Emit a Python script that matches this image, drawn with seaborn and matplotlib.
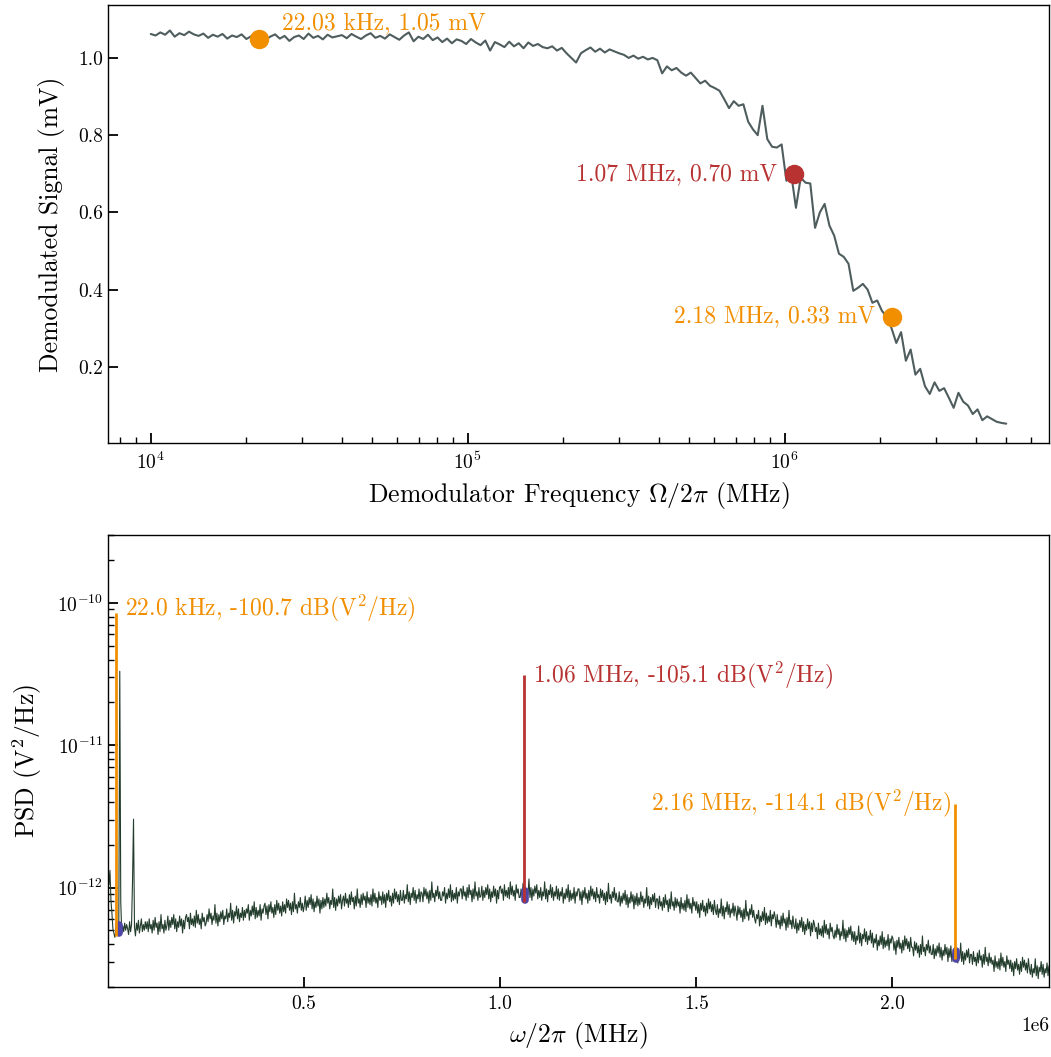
import numpy as np
import pandas as pd
import matplotlib
matplotlib.use("Agg")
import matplotlib.pyplot as plt
import seaborn as sns

# ---------------- data: demodulated signal sweep (top) ----------------
signal_mV = [
    1.062, 1.058, 1.066, 1.060, 1.071, 1.055, 1.064, 1.059, 1.068, 1.061,
    1.057, 1.063, 1.052, 1.060, 1.055, 1.062, 1.050, 1.058, 1.054, 1.061,
    1.049, 1.056, 1.052, 1.059, 1.047, 1.055, 1.061, 1.050, 1.057, 1.044,
    1.054, 1.058, 1.049, 1.063, 1.052, 1.057, 1.048, 1.060, 1.053, 1.056,
    1.059, 1.051, 1.062, 1.055, 1.049, 1.058, 1.064, 1.052, 1.057, 1.050,
    1.061, 1.054, 1.047, 1.058, 1.066, 1.043, 1.055, 1.049, 1.060, 1.046,
    1.053, 1.041, 1.050, 1.038, 1.048, 1.044, 1.036, 1.049, 1.040, 1.033,
    1.045, 1.019, 1.041, 1.035, 1.028, 1.042, 1.030, 1.038, 1.025, 1.040,
    1.031, 1.036, 1.028, 1.025, 1.030, 1.019, 1.026, 1.012, 1.000, 0.988,
    1.012, 1.020, 1.027, 1.016, 1.024, 1.014, 1.022, 1.017, 1.012, 1.008,
    1.000, 1.006, 0.998, 1.003, 0.996, 1.000, 0.994, 0.960, 0.978, 0.968,
    0.974, 0.962, 0.954, 0.962, 0.948, 0.934, 0.941, 0.928, 0.922, 0.915,
    0.893, 0.870, 0.888, 0.876, 0.880, 0.835, 0.815, 0.800, 0.876, 0.790,
    0.770, 0.768, 0.776, 0.682, 0.700, 0.612, 0.690, 0.677, 0.675, 0.560,
    0.600, 0.622, 0.566, 0.540, 0.493, 0.485, 0.467, 0.397, 0.405, 0.415,
    0.400, 0.366, 0.372, 0.345, 0.330, 0.300, 0.262, 0.290, 0.216, 0.245,
    0.180, 0.195, 0.150, 0.130, 0.160, 0.138, 0.145, 0.120, 0.094, 0.133,
    0.110, 0.100, 0.078, 0.090, 0.062, 0.072, 0.065, 0.058, 0.055, 0.053,
]
sweep_start_hz = 1e4
sweep_stop_hz = 5e6

marker_freq_hz = [22.03e3, 1.07e6, 2.18e6]
marker_signal_mV = [1.05, 0.70, 0.33]
marker_labels = ["22.03 kHz, 1.05 mV", "1.07 MHz, 0.70 mV", "2.18 MHz, 0.33 mV"]

# ---------------- data: PSD spectrum (bottom), dB(V^2/Hz), 2.5 kHz bins ----------------
psd_bin_hz = 2.5e3
psd_first_hz = 1.25e3
psd_db = [
    -118.3, -119.8, -118.8, -120.9, -121.8, -122.9, -123.2, -123.5, -123.1, -123.3,
    -122.8, -123.0, -104.8, -121.0, -123.2, -122.7, -123.1, -122.5, -123.0, -122.6,
    -122.9, -123.3, -122.4, -123.1, -122.6, -119.5, -115.2, -122.8, -123.4, -122.5,
    -123.0, -122.3, -123.2, -122.7, -122.2, -123.1, -122.6, -123.0, -122.4, -122.9,
    -122.4, -123.1, -122.2, -122.9, -122.6, -123.2, -122.3, -123.0, -122.1, -122.8,
    -122.5, -123.3, -122.4, -123.1, -121.9, -122.9, -122.6, -123.2, -122.3, -123.0,
    -122.7, -122.0, -123.0, -122.3, -122.8, -122.1, -122.6, -121.9, -122.9, -122.2,
    -123.1, -122.4, -122.8, -122.0, -122.7, -122.2, -123.2, -122.3, -122.9, -122.1,
    -121.9, -122.4, -122.1, -122.9, -121.8, -122.6, -122.2, -122.7, -122.0, -122.8,
    -121.6, -122.5, -121.9, -122.6, -122.2, -122.9, -121.8, -122.4, -122.1, -122.7,
    -122.5, -121.9, -122.4, -121.5, -122.2, -121.8, -122.6, -122.0, -122.3, -121.2,
    -122.5, -121.8, -122.7, -121.9, -122.4, -121.7, -122.2, -121.6, -122.6, -122.0,
    -122.2, -121.5, -122.4, -121.8, -122.1, -121.1, -122.3, -121.6, -122.5, -121.7,
    -122.0, -121.3, -122.2, -121.5, -122.4, -121.8, -122.1, -121.4, -122.3, -121.6,
    -122.1, -121.5, -121.8, -121.2, -122.3, -121.6, -122.0, -121.3, -121.9, -121.0,
    -122.2, -121.4, -122.1, -121.6, -122.0, -121.2, -122.3, -121.5, -121.8, -121.3,
    -121.1, -121.9, -121.3, -122.2, -121.2, -121.7, -121.0, -121.8, -121.4, -122.1,
    -121.2, -121.9, -120.9, -121.6, -121.1, -121.8, -121.3, -122.0, -121.0, -121.7,
    -121.2, -121.8, -120.8, -121.4, -120.9, -121.6, -121.1, -121.9, -121.0, -121.7,
    -120.4, -121.5, -121.2, -121.8, -121.0, -121.4, -120.7, -121.6, -121.1, -121.7,
    -121.3, -120.6, -121.6, -120.9, -121.4, -120.7, -121.2, -120.5, -121.5, -120.8,
    -121.7, -121.0, -121.4, -120.6, -121.3, -120.8, -121.8, -120.9, -121.5, -120.7,
    -121.4, -120.8, -121.3, -120.4, -121.1, -120.7, -121.5, -120.9, -121.2, -120.1,
    -121.4, -120.7, -121.6, -120.8, -121.3, -120.6, -121.1, -120.5, -121.5, -120.9,
    -120.6, -121.3, -120.4, -121.1, -120.8, -121.4, -120.5, -121.2, -120.3, -121.0,
    -120.7, -121.5, -120.6, -121.3, -120.1, -121.1, -120.8, -121.4, -120.5, -121.2,
    -120.4, -120.9, -120.6, -121.4, -120.3, -121.1, -120.7, -121.2, -120.5, -121.3,
    -120.1, -121.0, -120.4, -121.1, -120.7, -121.4, -120.3, -120.9, -120.6, -121.2,
    -120.3, -121.1, -120.5, -121.4, -120.4, -120.9, -120.2, -121.0, -120.6, -121.3,
    -120.4, -121.1, -120.1, -120.8, -120.3, -121.0, -120.5, -121.2, -120.2, -120.9,
    -120.9, -120.2, -121.1, -120.5, -120.8, -119.8, -121.0, -120.3, -121.2, -120.4,
    -120.7, -120.0, -120.9, -120.2, -121.1, -120.5, -120.8, -120.1, -121.0, -120.3,
    -120.4, -121.0, -120.0, -120.6, -120.1, -120.8, -120.3, -121.1, -120.2, -120.9,
    -119.6, -120.7, -120.4, -121.0, -120.2, -120.6, -119.9, -120.8, -120.3, -120.9,
    -120.9, -120.3, -120.6, -120.0, -121.1, -120.4, -120.8, -120.1, -120.7, -119.8,
    -121.0, -120.2, -120.9, -120.4, -120.8, -120.0, -121.1, -120.3, -120.6, -120.1,
    -120.1, -120.8, -119.9, -120.6, -120.3, -120.9, -120.0, -120.7, -119.8, -120.5,
    -120.2, -121.0, -120.1, -120.8, -119.6, -120.6, -120.3, -120.9, -120.0, -120.7,
    -120.6, -119.9, -120.9, -120.2, -120.7, -120.0, -120.5, -119.8, -120.8, -120.1,
    -121.0, -120.3, -120.7, -119.9, -120.6, -120.1, -121.1, -120.2, -120.8, -120.0,
    -119.9, -120.4, -120.1, -120.9, -119.8, -120.6, -120.2, -120.7, -120.0, -120.8,
    -119.6, -120.5, -119.9, -120.6, -120.2, -120.9, -119.8, -120.4, -120.1, -120.7,
    -120.7, -120.1, -120.6, -119.7, -120.4, -120.0, -120.8, -120.2, -120.5, -119.4,
    -120.7, -120.0, -120.9, -120.1, -120.6, -119.9, -120.4, -119.8, -120.8, -120.2,
    -120.7, -120.0, -120.9, -120.3, -120.6, -119.6, -120.8, -120.1, -121.0, -120.2,
    -120.5, -119.8, -120.7, -120.0, -120.9, -120.3, -120.6, -119.9, -120.8, -120.1,
    -120.9, -120.3, -120.6, -120.0, -121.1, -120.4, -120.8, -120.1, -120.7, -119.8,
    -121.0, -120.2, -120.9, -120.4, -120.8, -120.0, -121.1, -120.3, -120.6, -120.1,
    -120.1, -120.9, -120.3, -121.2, -120.2, -120.7, -120.0, -120.8, -120.4, -121.1,
    -120.2, -120.9, -119.9, -120.6, -120.1, -120.8, -120.3, -121.0, -120.0, -120.7,
    -120.5, -121.1, -120.1, -120.7, -120.2, -120.9, -120.4, -121.2, -120.3, -121.0,
    -119.7, -120.8, -120.5, -121.1, -120.3, -120.7, -120.0, -120.9, -120.4, -121.0,
    -121.0, -120.3, -121.3, -120.6, -121.1, -120.4, -120.9, -120.2, -121.2, -120.5,
    -121.4, -120.7, -121.1, -120.3, -121.0, -120.5, -121.5, -120.6, -121.2, -120.4,
    -121.3, -120.7, -121.2, -120.3, -121.0, -120.6, -121.4, -120.8, -121.1, -120.0,
    -121.3, -120.6, -121.5, -120.7, -121.2, -120.5, -121.0, -120.4, -121.4, -120.8,
    -120.8, -121.5, -120.6, -121.3, -121.0, -121.6, -120.7, -121.4, -120.5, -121.2,
    -120.9, -121.7, -120.8, -121.5, -120.3, -121.3, -121.0, -121.6, -120.7, -121.4,
    -120.8, -121.3, -121.0, -121.8, -120.7, -121.5, -121.1, -121.6, -120.9, -121.7,
    -120.5, -121.4, -120.8, -121.5, -121.1, -121.8, -120.7, -121.3, -121.0, -121.6,
    -121.0, -121.8, -121.2, -122.1, -121.1, -121.6, -120.9, -121.7, -121.3, -122.0,
    -121.1, -121.8, -120.8, -121.5, -121.0, -121.7, -121.2, -121.9, -120.9, -121.6,
    -121.9, -121.2, -122.1, -121.5, -121.8, -120.8, -122.0, -121.3, -122.2, -121.4,
    -121.7, -121.0, -121.9, -121.2, -122.1, -121.5, -121.8, -121.1, -122.0, -121.3,
    -121.7, -122.3, -121.3, -121.9, -121.4, -122.1, -121.6, -122.4, -121.5, -122.2,
    -120.9, -122.0, -121.7, -122.3, -121.5, -121.9, -121.2, -122.1, -121.6, -122.2,
    -122.5, -121.9, -122.2, -121.6, -122.7, -122.0, -122.4, -121.7, -122.3, -121.4,
    -122.6, -121.8, -122.5, -122.0, -122.4, -121.6, -122.7, -121.9, -122.2, -121.7,
    -122.1, -122.8, -121.9, -122.6, -122.3, -122.9, -122.0, -122.7, -121.8, -122.5,
    -122.2, -123.0, -122.1, -122.8, -121.6, -122.6, -122.3, -122.9, -122.0, -122.7,
    -122.9, -122.2, -123.2, -122.5, -123.0, -122.3, -122.8, -122.1, -123.1, -122.4,
    -123.3, -122.6, -123.0, -122.2, -122.9, -122.4, -123.4, -122.5, -123.1, -122.3,
    -122.6, -123.1, -122.8, -123.6, -122.5, -123.3, -122.9, -123.4, -122.7, -123.5,
    -122.3, -123.2, -122.6, -123.3, -122.9, -123.6, -122.5, -123.1, -122.8, -123.4,
    -123.6, -123.0, -123.5, -122.6, -123.3, -122.9, -123.7, -123.1, -123.4, -122.3,
    -123.6, -122.9, -123.8, -123.0, -123.5, -122.8, -123.3, -122.7, -123.7, -123.1,
    -123.8, -123.1, -124.0, -123.4, -123.7, -122.7, -123.9, -123.2, -124.1, -123.3,
    -123.6, -122.9, -123.8, -123.1, -124.0, -123.4, -123.7, -123.0, -123.9, -123.2,
    -124.2, -123.6, -123.9, -123.3, -124.4, -123.7, -124.1, -123.4, -124.0, -123.1,
    -124.3, -123.5, -124.2, -123.7, -124.1, -123.3, -124.4, -123.6, -123.9, -123.4,
    -123.6, -124.4, -123.8, -124.7, -123.7, -124.2, -123.5, -124.3, -123.9, -124.6,
    -123.7, -124.4, -123.4, -124.1, -123.6, -124.3, -123.8, -124.5, -123.5, -124.2,
    -124.2, -124.8, -123.8, -124.4, -123.9, -124.6, -124.1, -124.9, -124.0, -124.7,
    -123.4, -124.5, -124.2, -124.8, -124.0, -124.4, -123.7, -124.6, -124.1, -124.7,
    -124.7, -124.0, -125.0, -124.3, -124.8, -124.1, -124.6, -123.9, -124.9, -124.2,
    -125.1, -124.4, -124.8, -124.0, -124.7, -124.2, -125.2, -124.3, -124.9, -124.1,
    -125.2, -124.6, -125.1, -124.2, -124.9, -124.5, -125.3, -124.7, -125.0, -123.9,
    -125.2, -124.5, -125.4, -124.6, -125.1, -124.4, -124.9, -124.3, -125.3, -124.7,
    -124.7, -125.4, -124.5, -125.2, -124.9, -125.5, -124.6, -125.3, -124.4, -125.1,
    -124.8, -125.6, -124.7, -125.4, -124.2, -125.2, -124.9, -125.5, -124.6, -125.3,
    -124.9, -125.4, -125.1, -125.9, -124.8, -125.6, -125.2, -125.7, -125.0, -125.8,
    -124.6, -125.5, -124.9, -125.6, -125.2, -125.9, -124.8, -125.4, -125.1, -125.7,
    -125.1, -125.9, -125.3, -126.2, -125.2, -125.7, -125.0, -125.8, -125.4, -126.1,
    -125.2, -125.9, -124.9, -125.6, -125.1, -125.8, -125.3, -126.0, -125.0, -125.7,
    -126.1, -125.4, -126.3, -125.7, -126.0, -125.0, -126.2, -125.5, -126.4, -125.6,
    -125.9, -125.2, -126.1, -125.4, -126.3, -125.7, -126.0, -125.3, -126.2, -125.5,
]

peak_freq_hz = [22.0e3, 1.06e6, 2.16e6]
peak_db = [-100.7, -105.1, -114.1]
peak_base_db = [-123.4, -121.0, -125.0]
peak_bin_hz = [30.0e3, 1.0625e6, 2.1625e6]
peak_bin_db = [-122.9, -120.55, -124.75]
peak_labels = [r"22.0 kHz, -100.7 dB($\mathrm{V}^2/\mathrm{Hz}$)",
               r"1.06 MHz, -105.1 dB($\mathrm{V}^2/\mathrm{Hz}$)",
               r"2.16 MHz, -114.1 dB($\mathrm{V}^2/\mathrm{Hz}$)"]
psd_xticks = [0.5e6, 1.0e6, 1.5e6, 2.0e6]

# ---------------- style ----------------
ORANGE = "#F18F01"
RED = "#B83232"
GREY = "#4F5D5E"
GREEN = "#233D2D"
BLUE = "#5046A8"

sns.set_theme(style="ticks")
plt.rcParams.update({
    "font.family": ["cmr10", "DejaVu Serif"],
    "mathtext.fontset": "cm",
    "axes.formatter.use_mathtext": False,
    "axes.unicode_minus": False,
    "xtick.direction": "in",
    "ytick.direction": "in",
    "axes.edgecolor": "black",
    "axes.linewidth": 1.0,
    "xtick.color": "black",
    "ytick.color": "black",
    "text.color": "black",
    "axes.labelcolor": "black",
})

fig = plt.figure(figsize=(10.51, 10.57), dpi=100)
ax1 = fig.add_axes([108 / 1051, 1 - 443 / 1057, 941 / 1051, 438 / 1057])
ax2 = fig.add_axes([108 / 1051, 1 - 987 / 1057, 941 / 1051, 452 / 1057])

# ---------------- top panel ----------------
sweep_df = pd.DataFrame({
    "freq": np.geomspace(sweep_start_hz, sweep_stop_hz, len(signal_mV)),
    "signal": signal_mV,
})
ax1.set_xscale("log")
sns.lineplot(data=sweep_df, x="freq", y="signal", ax=ax1, color=GREY,
             linewidth=1.5, estimator=None)
marker_colors = [ORANGE, RED, ORANGE]
for i, (f, v, lab, c) in enumerate(zip(marker_freq_hz, marker_signal_mV,
                                       marker_labels, marker_colors)):
    ax1.plot([f], [v], "o", color=c, markersize=13, zorder=4)
    if i == 0:
        ax1.annotate(lab, (f, v), xytext=(16.5, 11), textcoords="offset points",
                     ha="left", va="center", color=c, fontsize=17)
    else:
        ax1.annotate(lab, (f, v), xytext=(-12, 0), textcoords="offset points",
                     ha="right", va="center", color=c, fontsize=17)

ax1.set_ylim(0.003, 1.137)
ax1.set_xlabel(r"Demodulator Frequency $\Omega/2\pi$ (MHz)", fontsize=18.5,
               labelpad=5)
ax1.set_ylabel("Demodulated Signal (mV)", fontsize=18.5, labelpad=9.5)

# ---------------- bottom panel ----------------
psd_df = pd.DataFrame({
    "freq": psd_first_hz + psd_bin_hz * np.arange(len(psd_db)),
    "psd": 10 ** (np.array(psd_db) / 10),
})
ax2.set_yscale("log")
sns.lineplot(data=psd_df, x="freq", y="psd", ax=ax2, color=GREEN,
             linewidth=0.8, estimator=None)

peak_colors = [ORANGE, RED, ORANGE]
for fb, db in zip(peak_bin_hz, peak_bin_db):
    p = 10 ** (db / 10)
    ax2.plot([fb, fb], [p * 10 ** -0.03, p * 10 ** 0.03], color=BLUE, lw=5.5,
             solid_capstyle="round", zorder=3)
ax2.vlines(peak_freq_hz, 10 ** (np.array(peak_base_db) / 10),
           10 ** (np.array(peak_db) / 10), colors=peak_colors, lw=2, zorder=4)
for i, (f, db, lab, c) in enumerate(zip(peak_freq_hz, peak_db, peak_labels, peak_colors)):
    p = 10 ** (db / 10)
    if i < 2:
        ax2.annotate(lab, (f, p), xytext=(6.5, 3 if i == 0 else 0),
                     textcoords="offset points", ha="left", va="center",
                     color=c, fontsize=17)
    else:
        ax2.annotate(lab, (f, p), xytext=(-3, 0), textcoords="offset points",
                     ha="right", va="center", color=c, fontsize=17)

ax2.set_xlim(psd_df["freq"].iloc[0], psd_df["freq"].iloc[-1])
ax2.set_xticks(psd_xticks)
ax2.set_ylim(2.0e-13, 3.0e-10)
ax2.set_xlabel(r"$\omega/2\pi$ (MHz)", fontsize=18.5, labelpad=5)
ax2.set_ylabel(r"PSD ($\mathrm{V}^2/\mathrm{Hz}$)", fontsize=18.5, labelpad=9.5)

for ax in (ax1, ax2):
    ax.tick_params(which="major", length=7, width=1.3, labelsize=14,
                   top=False, right=False)
    ax.tick_params(which="minor", length=4, width=1.0, top=False, right=False)
    ax.tick_params(axis="x", which="both", pad=6)
ax2.xaxis.get_offset_text().set_fontsize(14)

fig.savefig("out.png", dpi=100)
